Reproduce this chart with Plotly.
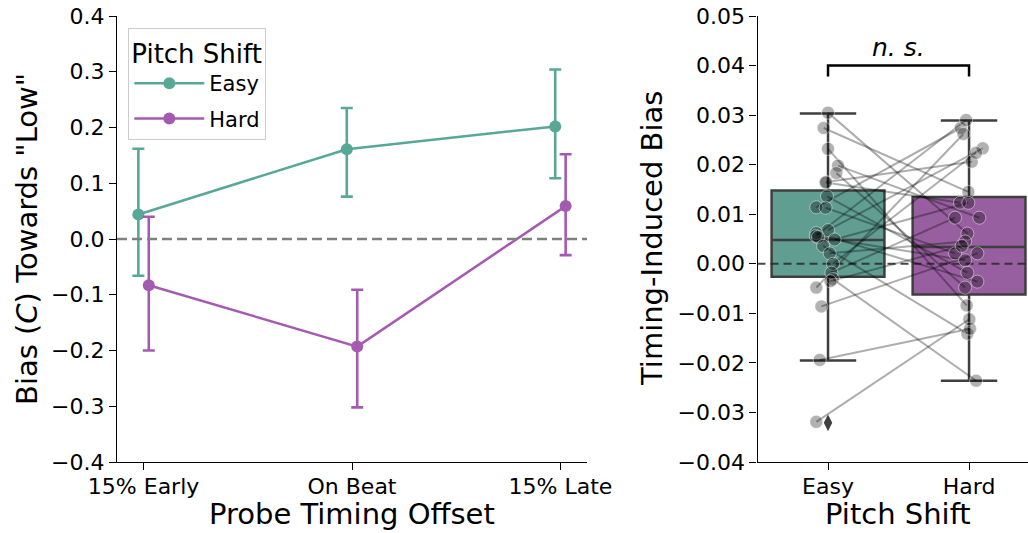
import plotly.graph_objects as go

# ---------------- data ----------------
timing_labels = ['15% Early', 'On Beat', '15% Late']
timing_pos = [0, 1, 2]

easy_mean = [0.044, 0.161, 0.202]
easy_hi = [0.162, 0.235, 0.304]
easy_lo = [-0.066, 0.076, 0.109]

hard_mean = [-0.083, -0.193, 0.059]
hard_hi = [0.040, -0.091, 0.152]
hard_lo = [-0.200, -0.302, -0.029]

shift_labels = ['Easy', 'Hard']
shift_pos = [0, 1]

# box statistics (q1, median, q3, lower whisker, upper whisker)
box_q1 = [-0.0026, -0.0062]
box_med = [0.0048, 0.0034]
box_q3 = [0.0148, 0.0135]
box_lo = [-0.0195, -0.0236]
box_hi = [0.0303, 0.0289]
easy_outlier = [-0.0321]

# per-subject timing-induced bias (paired)
subj_easy = [0.0305, 0.0274, 0.0232, 0.0198, 0.0183, 0.0165, 0.0164, 0.0136, 0.0114, 0.0113,
             0.0068, 0.0062, 0.0056, 0.0054, 0.0049, 0.0036, 0.0021, 0.0000, -0.0018, -0.0031,
             -0.0035, -0.0048, -0.0086, -0.0194, -0.0319]
subj_hard = [0.0061, 0.0145, -0.0084, 0.0093, -0.0048, 0.0206, 0.0123, -0.0018, 0.0274, 0.0021,
             0.0233, -0.0036, 0.0290, 0.0007, 0.0123, -0.0141, 0.0045, 0.0224, 0.0093, -0.0236,
             0.0036, 0.0262, 0.0021, -0.0131, -0.0112]
jitter_easy = [0.0, -0.031, 0.0, 0.071, 0.059, -0.012, -0.017, -0.007, -0.083, -0.017,
               0.0, -0.083, -0.087, -0.071, 0.047, -0.035, 0.012, 0.035, 0.024, 0.035,
               0.017, -0.083, -0.047, -0.059, -0.083]
jitter_hard = [-0.012, -0.005, -0.017, 0.073, -0.028, 0.019, -0.064, -0.012, -0.059, -0.099,
               0.097, 0.059, -0.021, -0.028, -0.005, -0.012, -0.028, 0.050, -0.099, 0.050,
               -0.052, -0.040, 0.059, 0.007, 0.002]

left_yticks = [-0.4, -0.3, -0.2, -0.1, 0.0, 0.1, 0.2, 0.3, 0.4]
right_yticks = [-0.04, -0.03, -0.02, -0.01, 0.0, 0.01, 0.02, 0.03, 0.04, 0.05]

# ---------------- style ----------------
EASY = 'rgb(88,168,151)'
HARD = 'rgb(165,90,177)'
EASY_BOX = 'rgb(96,158,146)'
HARD_BOX = 'rgb(152,95,160)'
EDGE = '#3f3f3f'
FONT = 'DejaVu Sans'
W, H = 1028, 533
DODGE = 0.025


def fmt(v, nd):
    s = f'{v:.{nd}f}'
    return s.replace('-', '\u2212')


fig = go.Figure()

# ---- left panel: point plot ----
for name, means, hi, lo, col, off in [
    ('Easy', easy_mean, easy_hi, easy_lo, EASY, -DODGE),
    ('Hard', hard_mean, hard_hi, hard_lo, HARD, DODGE),
]:
    fig.add_trace(go.Scatter(
        x=[p + off for p in timing_pos], y=means, name=name,
        mode='lines+markers', legendgroup=name,
        line=dict(color=col, width=2.5),
        marker=dict(color=col, size=12),
        error_y=dict(type='data', symmetric=False,
                     array=[h - m for h, m in zip(hi, means)],
                     arrayminus=[m - l for m, l in zip(means, lo)],
                     color=col, thickness=2.6, width=6),
        xaxis='x', yaxis='y', showlegend=True,
    ))

# zero line (left)
fig.add_trace(go.Scatter(x=[-0.1275, 2.1275], y=[0, 0], mode='lines',
                         line=dict(color='grey', width=2.5, dash='10px,5px'),
                         showlegend=False, hoverinfo='skip', xaxis='x', yaxis='y'))

# ---- right panel: boxes ----
for i, col in enumerate([EASY_BOX, HARD_BOX]):
    fig.add_trace(go.Box(
        x=[shift_pos[i]], q1=[box_q1[i]], median=[box_med[i]], q3=[box_q3[i]],
        lowerfence=[box_lo[i]], upperfence=[box_hi[i]],
        fillcolor=col, line=dict(color=EDGE, width=2.5), width=0.8, whiskerwidth=0.5,
        boxpoints=False, showlegend=False, xaxis='x2', yaxis='y2', hoverinfo='skip',
    ))

# zero line (right)
fig.add_trace(go.Scatter(x=[-0.5, 1.5], y=[0, 0], mode='lines',
                         line=dict(color='rgba(40,40,40,0.85)', width=2, dash='8px,5px'),
                         showlegend=False, hoverinfo='skip', xaxis='x2', yaxis='y2'))

# paired lines
lx, ly = [], []
for e, h, je, jh in zip(subj_easy, subj_hard, jitter_easy, jitter_hard):
    lx += [shift_pos[0] + je, shift_pos[1] + jh, None]
    ly += [e, h, None]
fig.add_trace(go.Scatter(x=lx, y=ly, mode='lines',
                         line=dict(color='rgba(0,0,0,0.32)', width=2),
                         showlegend=False, hoverinfo='skip', xaxis='x2', yaxis='y2'))

# strip points
px = [shift_pos[0] + j for j in jitter_easy] + [shift_pos[1] + j for j in jitter_hard]
py = subj_easy + subj_hard
fig.add_trace(go.Scatter(x=px, y=py, mode='markers',
                         marker=dict(color='rgba(0,0,0,0.3)', size=13,
                                     line=dict(color='rgba(255,255,255,0.45)', width=1)),
                         showlegend=False, hoverinfo='skip', xaxis='x2', yaxis='y2'))

# outlier
fig.add_trace(go.Scatter(x=[shift_pos[0]], y=easy_outlier, mode='markers',
                         marker=dict(symbol='diamond-tall', color=EDGE, size=12),
                         showlegend=False, hoverinfo='skip', xaxis='x2', yaxis='y2'))

# significance bracket
fig.add_trace(go.Scatter(x=[shift_pos[0], shift_pos[0], shift_pos[1], shift_pos[1]],
                         y=[0.0378, 0.040, 0.040, 0.0378], mode='lines',
                         line=dict(color='black', width=2.5),
                         showlegend=False, hoverinfo='skip', xaxis='x2', yaxis='y2'))

ydom = [71 / H, 517 / H]
axis_common = dict(showline=True, linecolor='black', linewidth=1.3, ticks='outside',
                   ticklen=7, tickwidth=1.3, tickcolor='black', showgrid=False,
                   zeroline=False, automargin=False,
                   tickfont=dict(size=22, color='black', family=FONT))

fig.update_layout(
    width=W, height=H, margin=dict(l=0, r=0, t=0, b=0, autoexpand=False),
    paper_bgcolor='white', plot_bgcolor='white',
    font=dict(family=FONT, color='black'),
    xaxis=dict(domain=[117 / W, 587 / W], range=[-0.1275, 2.1275], ticklabelstandoff=-3,
               tickvals=timing_pos, ticktext=timing_labels, anchor='y', **axis_common),
    yaxis=dict(domain=ydom, range=[-0.4, 0.4], tickvals=left_yticks,
               ticktext=[fmt(v, 1) for v in left_yticks], anchor='x', **axis_common),
    xaxis2=dict(domain=[757.5 / W, 1.0], range=[-0.5, 1.418], ticklabelstandoff=-3,
                tickvals=shift_pos, ticktext=shift_labels, anchor='y2', **axis_common),
    yaxis2=dict(domain=ydom, range=[-0.04, 0.05], tickvals=right_yticks,
                ticktext=[fmt(v, 2) for v in right_yticks], anchor='x2', **axis_common),
    legend=dict(x=128 / W, y=505 / H, xanchor='left', yanchor='top',
                bgcolor='white', bordercolor='#cccccc', borderwidth=1.3,
                traceorder='grouped', tracegroupgap=5, itemwidth=70,
                font=dict(size=21, family=FONT, color='black'),
                title=dict(text='Pitch Shift', font=dict(size=26, family=FONT, color='black'))),
    showlegend=True,
)

annots = [
    dict(text='Probe Timing Offset', x=352 / W, y=(H - 514) / H, font_size=29),
    dict(text='Pitch Shift', x=898 / W, y=(H - 514) / H, font_size=29),
    dict(text='Bias (<i>C</i>) Towards "Low"', x=27 / W, y=(H - 239) / H, font_size=29, textangle=-90),
    dict(text='Timing-Induced Bias', x=652 / W, y=(H - 239) / H, font_size=29, textangle=-90),
]
for a in annots:
    fig.add_annotation(text=a['text'], x=a['x'], y=a['y'], xref='paper', yref='paper',
                       xanchor='center', yanchor='middle', showarrow=False,
                       textangle=a.get('textangle', 0),
                       font=dict(size=a['font_size'], family=FONT, color='black'))

fig.add_annotation(text='<i>n. s.</i>', x=0.5, y=0.0437, xref='x2', yref='y2',
                   xanchor='center', yanchor='middle', showarrow=False,
                   font=dict(size=25, family=FONT, color='black'))

fig.write_html('out.html')
